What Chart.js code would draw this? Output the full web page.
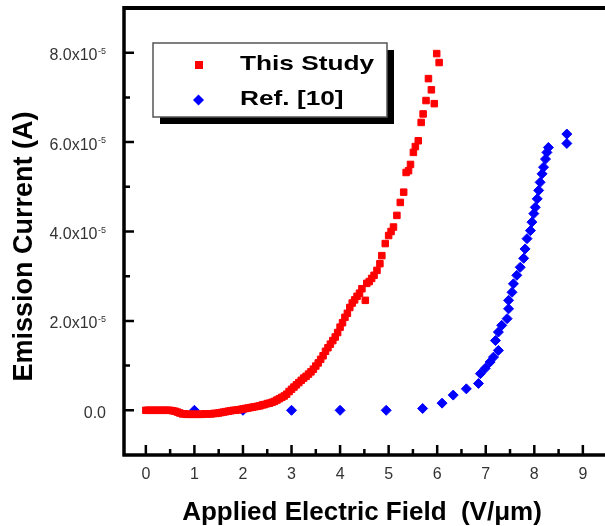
<!DOCTYPE html>
<html>
<head>
<meta charset="utf-8">
<script src="https://cdn.jsdelivr.net/npm/chart.js@4/dist/chart.umd.min.js"></script>
<style>
html, body { margin: 0; padding: 0; overflow: hidden; background: #fff; }
#wrap { width: 620px; height: 526px; }
</style>
</head>
<body>
<div id="wrap"><canvas id="c" width="620" height="526"></canvas></div>
<script>
// ---- Data (field in V/µm, current in A) ----
const seriesNames = ["This Study", "Ref. [10]"];

const fieldThisStudy = [
  0.00,0.05,0.10,0.15,0.20,0.25,0.30,0.35,0.40,0.45,0.50,0.55,0.60,0.65,0.70,0.75,0.80,0.85,0.90,0.95,
  1.00,1.05,1.10,1.15,1.20,1.25,1.30,1.35,1.40,1.45,1.50,1.55,1.60,1.65,1.70,1.75,1.80,1.85,1.90,1.95,
  2.00,2.05,2.10,2.15,2.20,2.25,2.30,2.35,2.40,2.45,2.50,2.55,2.60,2.65,2.70,2.75,2.80,2.85,2.90,2.95,
  3.00,3.05,3.10,3.15,3.20,3.25,3.30,3.35,3.40,3.45,3.50,3.55,3.60,3.65,3.70,3.75,3.80,3.85,3.90,3.95,
  4.00,4.05,4.10,4.15,4.20,4.25,4.30,4.35,4.40,4.45,4.52,4.55,4.60,4.65,4.70,4.76,4.82,4.86,4.93,5.00,
  5.05,5.10,5.17,5.24,5.31,5.36,5.41,5.45,5.51,5.55,5.61,5.67,5.71,5.77,5.82,5.88,5.94,5.99,6.04
];
const currentThisStudy = [
  0.00e-5,0.00e-5,0.00e-5,0.00e-5,0.00e-5,0.00e-5,0.00e-5,0.00e-5,0.00e-5,0.00e-5,0.00e-5,-0.01e-5,-0.02e-5,-0.04e-5,-0.06e-5,-0.08e-5,-0.08e-5,-0.09e-5,-0.09e-5,-0.09e-5,
  -0.09e-5,-0.09e-5,-0.09e-5,-0.09e-5,-0.08e-5,-0.08e-5,-0.08e-5,-0.08e-5,-0.07e-5,-0.07e-5,-0.06e-5,-0.05e-5,-0.04e-5,-0.03e-5,-0.02e-5,-0.01e-5,0.00e-5,0.00e-5,0.01e-5,0.02e-5,
  0.03e-5,0.04e-5,0.05e-5,0.06e-5,0.07e-5,0.08e-5,0.09e-5,0.10e-5,0.12e-5,0.13e-5,0.15e-5,0.16e-5,0.18e-5,0.20e-5,0.23e-5,0.26e-5,0.29e-5,0.32e-5,0.36e-5,0.42e-5,
  0.47e-5,0.52e-5,0.57e-5,0.62e-5,0.67e-5,0.72e-5,0.76e-5,0.81e-5,0.86e-5,0.92e-5,0.99e-5,1.06e-5,1.14e-5,1.22e-5,1.32e-5,1.40e-5,1.48e-5,1.56e-5,1.64e-5,1.74e-5,
  1.86e-5,1.96e-5,2.08e-5,2.17e-5,2.30e-5,2.40e-5,2.47e-5,2.55e-5,2.62e-5,2.72e-5,2.46e-5,2.84e-5,2.88e-5,2.95e-5,3.02e-5,3.13e-5,3.28e-5,3.46e-5,3.73e-5,3.91e-5,
  4.00e-5,4.10e-5,4.36e-5,4.65e-5,4.88e-5,5.32e-5,5.36e-5,5.50e-5,5.77e-5,5.90e-5,6.03e-5,6.44e-5,6.63e-5,6.93e-5,7.42e-5,7.17e-5,6.86e-5,7.98e-5,7.78e-5
];

const fieldRef10 = [
  1.00,2.00,3.00,4.00,4.95,5.70,6.10,6.33,6.60,6.85,6.89,6.99,7.09,7.16,7.20,7.26,7.26,7.33,7.44,7.47,
  7.47,7.54,7.57,7.64,7.71,7.78,7.81,7.85,7.92,7.95,7.99,8.02,8.06,8.09,8.12,8.16,8.19,8.23,8.26,8.29,
  8.67,8.67
];
const currentRef10 = [
  0.00e-5,0.00e-5,0.00e-5,0.00e-5,0.00e-5,0.04e-5,0.16e-5,0.34e-5,0.48e-5,0.60e-5,0.82e-5,0.94e-5,1.08e-5,1.19e-5,1.56e-5,1.34e-5,1.75e-5,1.90e-5,2.05e-5,2.27e-5,
  2.46e-5,2.64e-5,2.83e-5,3.02e-5,3.20e-5,3.40e-5,3.61e-5,3.84e-5,4.02e-5,4.21e-5,4.40e-5,4.54e-5,4.73e-5,4.92e-5,5.10e-5,5.29e-5,5.44e-5,5.62e-5,5.77e-5,5.88e-5,
  6.18e-5,5.97e-5
];

const xMajorTicks = [0,1,2,3,4,5,6,7,8,9];
const xMinorTicks = [0.5,1.5,2.5,3.5,4.5,5.5,6.5,7.5,8.5];
const yMajorTicks = [0, 2e-5, 4e-5, 6e-5, 8e-5];
const yMajorLabels = ["0.0", "2.0x10", "4.0x10", "6.0x10", "8.0x10"];
const yLabelExponents = ["", "-5", "-5", "-5", "-5"];
const yMinorTicks = [1e-5, 3e-5, 5e-5, 7e-5];

const xTitle = "Applied Electric Field  (V/\u03bcm)";
const yTitle = "Emission Current (A)";

// ---- Build datasets ----
const pts = (xs, ys) => xs.map((x, i) => ({ x: x, y: ys[i] }));

const FONT = "'Liberation Sans', Arial, Helvetica, sans-serif";

const framePlugin = {
  id: 'frame',
  afterDraw(chart) {
    const ctx = chart.ctx;
    const a = chart.chartArea;
    const xs = chart.scales.x, ys = chart.scales.y;
    ctx.save();
    ctx.strokeStyle = '#000';
    ctx.lineCap = 'butt';
    // frame lines
    ctx.lineWidth = 4;
    ctx.beginPath();
    ctx.moveTo(a.left, a.top); ctx.lineTo(a.right + 20, a.top);
    ctx.stroke();
    ctx.lineWidth = 3.5;
    ctx.beginPath();
    ctx.moveTo(a.left, a.top - 2); ctx.lineTo(a.left, a.bottom + 1.5);
    ctx.moveTo(a.left - 1.5, a.bottom); ctx.lineTo(a.right + 20, a.bottom);
    ctx.stroke();
    // inward ticks
    ctx.lineWidth = 2.5;
    ctx.beginPath();
    xMajorTicks.forEach(v => { const p = xs.getPixelForValue(v); ctx.moveTo(p, a.bottom); ctx.lineTo(p, a.bottom - 10); });
    xMinorTicks.forEach(v => { const p = xs.getPixelForValue(v); ctx.moveTo(p, a.bottom); ctx.lineTo(p, a.bottom - 6); });
    yMajorTicks.forEach(v => { const p = ys.getPixelForValue(v); ctx.moveTo(a.left, p); ctx.lineTo(a.left + 10, p); });
    yMinorTicks.forEach(v => { const p = ys.getPixelForValue(v); ctx.moveTo(a.left, p); ctx.lineTo(a.left + 6, p); });
    ctx.stroke();

    // x tick labels
    ctx.fillStyle = '#333';
    ctx.font = '16px ' + FONT;
    ctx.textAlign = 'center';
    ctx.textBaseline = 'alphabetic';
    xMajorTicks.forEach(v => {
      ctx.fillText(String(v), xs.getPixelForValue(v), a.bottom + 24);
    });
    // y tick labels with superscript exponent
    yMajorTicks.forEach((v, i) => {
      const p = ys.getPixelForValue(v);
      const right = a.left - 18;
      ctx.font = '9px ' + FONT;
      const ew = yLabelExponents[i] ? ctx.measureText(yLabelExponents[i]).width : 0;
      ctx.textAlign = 'left';
      if (ew) ctx.fillText(yLabelExponents[i], right - ew, p + 1);
      ctx.font = '16px ' + FONT;
      ctx.textAlign = 'right';
      ctx.fillText(yMajorLabels[i], right - ew - (ew ? 0.5 : 0), p + 7.5);
    });

    // axis titles
    ctx.fillStyle = '#000';
    ctx.font = 'bold 26px ' + FONT;
    ctx.textAlign = 'center';
    ctx.fillText(xTitle, (a.left + a.right) / 2 - 6, 520);
    ctx.save();
    ctx.translate(22 + 10, (a.top + a.bottom) / 2 + 15);
    ctx.rotate(-Math.PI / 2);
    ctx.font = 'bold 27px ' + FONT;
    ctx.textAlign = 'center';
    ctx.fillText(yTitle, 0, 0);
    ctx.restore();

    // legend
    const lx = a.left + 29, ly = a.top + 35, lw = 234, lh = 74;
    ctx.fillStyle = '#000';
    ctx.fillRect(lx + 7, ly + 7, lw, lh);
    ctx.fillStyle = '#fff';
    ctx.fillRect(lx, ly, lw, lh);
    ctx.strokeStyle = '#555';
    ctx.lineWidth = 1.5;
    ctx.strokeRect(lx, ly, lw, lh);
    const ds = chart.data.datasets;
    // red square
    ctx.fillStyle = ds[0].backgroundColor;
    ctx.fillRect(lx + 42, ly + 18, 8, 8);
    // blue diamond
    ctx.fillStyle = ds[1].backgroundColor;
    const dx = lx + 45.5, dy = ly + 57;
    ctx.beginPath();
    ctx.moveTo(dx - 5.5, dy); ctx.lineTo(dx, dy - 5.5); ctx.lineTo(dx + 5.5, dy); ctx.lineTo(dx, dy + 5.5);
    ctx.closePath(); ctx.fill();
    ctx.fillStyle = '#000';
    ctx.font = 'bold 21px ' + FONT;
    ctx.textAlign = 'left';
    [[seriesNames[0], ly + 27], [seriesNames[1], ly + 62]].forEach(([t, yy]) => {
      ctx.save();
      ctx.translate(lx + 87, yy);
      ctx.scale(1.25, 1);
      ctx.fillText(t, 0, 0);
      ctx.restore();
    });
    ctx.restore();
  }
};

new Chart(document.getElementById('c'), {
  type: 'scatter',
  data: {
    datasets: [
      {
        label: seriesNames[0],
        data: pts(fieldThisStudy, currentThisStudy),
        pointStyle: 'rect',
        pointRadius: 4.6,
        pointBorderWidth: 1,
        backgroundColor: '#ff0000',
        borderColor: '#ff0000'
      },
      {
        label: seriesNames[1],
        data: pts(fieldRef10, currentRef10),
        pointStyle: 'rectRot',
        pointRadius: 5,
        pointBorderWidth: 1,
        backgroundColor: '#0000ff',
        borderColor: '#0000ff'
      }
    ]
  },
  options: {
    responsive: false,
    animation: false,
    devicePixelRatio: 1,
    layout: { padding: { left: 0, top: 8, right: 8, bottom: 0 } },
    plugins: { legend: { display: false }, tooltip: { enabled: false } },
    scales: {
      x: {
        type: 'linear', min: -0.45, max: 9.6,
        grid: { display: false }, border: { display: false },
        ticks: { display: false },
        afterFit: s => { s.height = 71; }
      },
      y: {
        type: 'linear', min: -1e-5, max: 9e-5,
        grid: { display: false }, border: { display: false },
        ticks: { display: false },
        afterFit: s => { s.width = 124; }
      }
    }
  },
  plugins: [framePlugin]
});
</script>
</body>
</html>
